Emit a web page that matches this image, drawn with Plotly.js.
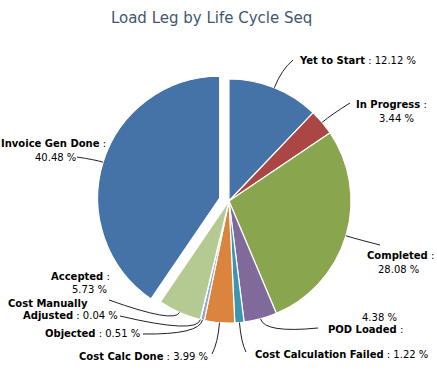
<!DOCTYPE html>
<html>
<head>
<meta charset="utf-8">
<script src="https://cdn.plot.ly/plotly-3.0.1.min.js"></script>
<style>html,body{margin:0;padding:0;background:#fff;}#chart{width:437px;height:374px;}</style>
</head>
<body>
<div id="chart"></div>
<script>
// ---- data ----
const labels = ["Yet to Start", "In Progress", "Completed", "POD Loaded", "Cost Calculation Failed",
                "Cost Calc Done", "Objected", "Cost Manually Adjusted", "Accepted", "Invoice Gen Done"];
const values = [12.12, 3.44, 28.08, 4.38, 1.22, 3.99, 0.51, 0.04, 5.73, 40.48];
const colors = ["#4572A7", "#AA4643", "#89A54E", "#80699B", "#3D96AE",
                "#DB843D", "#92A8CD", "#A47D7C", "#B5CA92", "#4572A7"];
const pulls  = [0, 0, 0, 0, 0, 0, 0, 0, 0, 0.08];

// ---- geometry (pixels) ----
const W = 437, H = 374;
const CX = 229, CY = 201, R = 122;
const PULLPX = 10;
const px = x => x / W, py = y => 1 - y / H;
const maxPull = Math.max.apply(null, pulls);
const DR = R * (1 + maxPull);

// label lines: slice index, text builder, x, y, anchor
const pct = i => values[i].toFixed(2) + ' %';
const nm = i => '<b>' + labels[i] + '</b>';
const words = (i, a, b) => '<b>' + labels[i].split(' ').slice(a, b).join(' ') + '</b>';
const labelLines = [
  [0, i => nm(i) + ' : ' + pct(i), 297, 60.5, 'left'],
  [1, i => nm(i) + ' :', 391, 104, 'center'],
  [1, i => pct(i), 396, 119, 'center'],
  [2, i => nm(i) + ' :', 400, 256, 'center'],
  [2, i => pct(i), 398.5, 269, 'center'],
  [3, i => pct(i), 379.5, 317, 'center'],
  [3, i => nm(i) + ' :', 326, 329, 'left'],
  [4, i => nm(i) + ' : ' + pct(i), 253, 354.5, 'left'],
  [5, i => nm(i) + ' : ' + pct(i), 210, 356, 'right'],
  [6, i => nm(i) + ' : ' + pct(i), 142, 333, 'right'],
  [7, i => words(i, 0, 2), 6, 303, 'left'],
  [7, i => words(i, 2) + ' : ' + pct(i), 120, 315, 'right'],
  [8, i => nm(i) + ' :', 112, 276, 'right'],
  [8, i => pct(i), 109, 289, 'right'],
  [9, i => nm(i) + ' :', 53, 143, 'center'],
  [9, i => pct(i), 55, 157, 'center']
];
// connector end points and radial extension per slice
const connEnd = [[293, 60, 20], [350, 103, 12], [380, 245, 14], [318, 328, 15], [246, 352, 20],
                 [212, 354, 20], [143, 334, 15], [120, 316, 15], [109, 300, 12], [77, 157, 8]];

const total = values.reduce((a, b) => a + b, 0);
const shapes = [];
let cum = 0;
values.forEach((v, i) => {
  const mid = (cum + v / 2) / total * 2 * Math.PI;
  cum += v;
  const sx = Math.sin(mid), sy = -Math.cos(mid);
  const off = maxPull ? pulls[i] / maxPull * PULLPX : 0;
  const cx = CX + off * sx, cy = CY + off * sy;
  const ex = cx + R * sx, ey = cy + R * sy;
  const e = connEnd[i];
  const qx = cx + (R + e[2]) * sx, qy = cy + (R + e[2]) * sy;
  shapes.push({
    type: 'path', xref: 'paper', yref: 'paper',
    path: 'M ' + px(ex) + ',' + py(ey) + ' Q ' + px(qx) + ',' + py(qy) + ' ' + px(e[0]) + ',' + py(e[1]),
    line: {color: '#222', width: 1}
  });
});

const annotations = labelLines.map(l => ({
  xref: 'paper', yref: 'paper', x: px(l[2]), y: py(l[3]),
  xanchor: l[4], yanchor: 'middle', showarrow: false, align: l[4],
  text: l[1](l[0]),
  font: {family: 'DejaVu Sans, Verdana, sans-serif', size: 10, color: '#000'}
}));

const trace = {
  type: 'pie', labels: labels, values: values, sort: false, direction: 'clockwise', rotation: 0,
  pull: pulls, textinfo: 'none', hoverinfo: 'label+percent', automargin: false, showlegend: false,
  marker: {colors: colors, line: {color: '#ffffff', width: 1.2}},
  domain: {x: [px(CX - DR), px(CX + DR)], y: [py(CY + DR), py(CY - DR)]}
};

const layout = {
  width: W, height: H, margin: {l: 0, r: 0, t: 0, b: 0},
  paper_bgcolor: '#fff', plot_bgcolor: '#fff', showlegend: false,
  title: {text: 'Load Leg by Life Cycle Seq', x: 211.6 / W, xanchor: 'center', y: py(18), yanchor: 'middle',
          yref: 'container', xref: 'container',
          font: {family: 'DejaVu Sans, Verdana, sans-serif', size: 15, color: '#3E576F'}},
  shapes: shapes, annotations: annotations
};

Plotly.newPlot('chart', [trace], layout, {displayModeBar: false, staticPlot: true});
</script>
</body>
</html>
